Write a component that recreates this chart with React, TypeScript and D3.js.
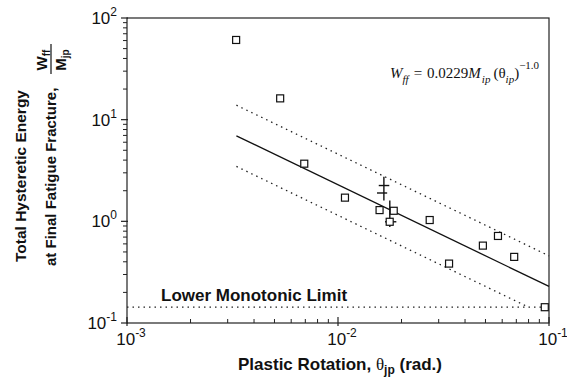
import React from "react";
import * as d3 from "d3";

// Test specimens: plastic rotation (rad) vs. normalized hysteretic energy W_ff / M_jp
const rotation = [0.00329, 0.00532, 0.00692, 0.01079, 0.01574, 0.01837, 0.01758, 0.0272, 0.0336, 0.0486, 0.0573, 0.0684, 0.0955];
const energy = [60.8, 16.2, 3.69, 1.71, 1.29, 1.27, 0.99, 1.03, 0.384, 0.577, 0.718, 0.447, 0.143];

// Specimens reported with scatter bands (centre, x range, y range)
const crossX = [0.0165, 0.0162, 0.0176, 0.0177];
const crossY = [2.25, 1.9, 1.25, 0.99];
const crossXLo = [0.0156, 0.0153, 0.0176, 0.0167];
const crossXHi = [0.0175, 0.0171, 0.0176, 0.0189];
const crossYLo = [1.6, 1.9, 0.88, 0.99];
const crossYHi = [2.75, 1.9, 1.6, 0.99];

// Fit: W_ff = 0.0229 M_jp θ^-1.0, with bands at 2x and 0.5x
const fitCoef = 0.0229;
const fitExp = -1.0;
const bandFactors = [2, 0.5];
const fitRange = [0.0033, 0.1];
const monotonicLimit = 0.143;

const xTickExp = [-3, -2, -1];
const yTickExp = [-1, 0, 1, 2];

const W = 567;
const H = 379;
const m = { left: 127, right: 549, top: 18, bottom: 323 };

export default function App() {
  const x = d3.scaleLog().domain([1e-3, 1e-1]).range([m.left, m.right]);
  const y = d3.scaleLog().domain([1e-1, 1e2]).range([m.bottom, m.top]);

  const fit = (t: number, k = 1) => k * fitCoef * Math.pow(t, fitExp);

  const fitPath = d3
    .line<[number, number]>()
    .x((d) => x(d[0]))
    .y((d) => y(d[1]));

  const upper: [number, number][] = [
    [fitRange[0], fit(fitRange[0], bandFactors[0])],
    [fitRange[1], fit(fitRange[1], bandFactors[0])],
  ];
  // lower band runs until it meets the monotonic limit
  const tMeet = Math.pow(monotonicLimit / (fitCoef * bandFactors[1]), 1 / fitExp);
  const lower: [number, number][] = [
    [fitRange[0], fit(fitRange[0], bandFactors[1])],
    [tMeet, monotonicLimit],
  ];
  const mid: [number, number][] = [
    [fitRange[0], fit(fitRange[0])],
    [fitRange[1], fit(fitRange[1])],
  ];

  const xMinor: number[] = [];
  for (let e = -3; e < -1; e++) for (let k = 2; k <= 9; k++) xMinor.push(k * Math.pow(10, e));
  const yMinor: number[] = [];
  for (let e = -1; e < 2; e++) for (let k = 2; k <= 9; k++) yMinor.push(k * Math.pow(10, e));

  const sans = "Arial, 'Liberation Sans', Helvetica, sans-serif";
  const serif = "'Times New Roman', 'Liberation Serif', serif";
  const sq = 7;

  return (
    <svg width={W} height={H} style={{ display: "block", position: "absolute", left: 0, top: 0, background: "#fff" }}>
      {/* frame */}
      <rect x={m.left} y={m.top} width={m.right - m.left} height={m.bottom - m.top} fill="none" stroke="#222" strokeWidth={1.2} />

      {/* y ticks */}
      {yTickExp.map((e) => (
        <g key={"y" + e}>
          <line x1={m.left - 6} x2={m.left + 1} y1={y(Math.pow(10, e))} y2={y(Math.pow(10, e))} stroke="#222" strokeWidth={1.2} />
          <text x={m.left - 10} y={y(Math.pow(10, e)) + 6} textAnchor="end" fontFamily={sans} fontSize={17} fill="#111">
            10<tspan dy={-8} fontSize={12}>{e}</tspan>
          </text>
        </g>
      ))}
      {yMinor.map((v) => (
        <line key={"ym" + v} x1={m.left - 4} x2={m.left} y1={y(v)} y2={y(v)} stroke="#222" strokeWidth={1} />
      ))}

      {/* x ticks */}
      {xTickExp.map((e) => (
        <g key={"x" + e}>
          <line x1={x(Math.pow(10, e))} x2={x(Math.pow(10, e))} y1={m.bottom + 3} y2={m.bottom - 6} stroke="#222" strokeWidth={1.2} />
          <text x={x(Math.pow(10, e)) + 4} y={m.bottom + 22} textAnchor="middle" fontFamily={sans} fontSize={17} fill="#111">
            10<tspan dy={-8} fontSize={12}>{e}</tspan>
          </text>
        </g>
      ))}
      {xMinor.map((v) => (
        <line key={"xm" + v} x1={x(v)} x2={x(v)} y1={m.bottom} y2={m.bottom - 4} stroke="#222" strokeWidth={1} />
      ))}

      {/* fit and bands */}
      <path d={fitPath(mid) ?? ""} fill="none" stroke="#111" strokeWidth={1.3} />
      <path d={fitPath(upper) ?? ""} fill="none" stroke="#222" strokeWidth={1.3} strokeDasharray="1.5 4" />
      <path d={fitPath(lower) ?? ""} fill="none" stroke="#222" strokeWidth={1.3} strokeDasharray="1.5 4" />
      <line x1={m.left} x2={m.right} y1={y(monotonicLimit)} y2={y(monotonicLimit)} stroke="#222" strokeWidth={1.3} strokeDasharray="1.5 4" />

      {/* scatter bands */}
      {crossX.map((cx, i) => (
        <g key={"c" + i} stroke="#111" strokeWidth={1.4}>
          {crossYLo[i] !== crossYHi[i] && <line x1={x(cx)} x2={x(cx)} y1={y(crossYLo[i])} y2={y(crossYHi[i])} />}
          {crossXLo[i] !== crossXHi[i] && <line x1={x(crossXLo[i])} x2={x(crossXHi[i])} y1={y(crossY[i])} y2={y(crossY[i])} />}
        </g>
      ))}

      {/* data points */}
      {rotation.map((t, i) => (
        <rect key={"p" + i} x={x(t) - sq / 2} y={y(energy[i]) - sq / 2} width={sq} height={sq} fill="#fff" stroke="#111" strokeWidth={1.2} />
      ))}

      {/* annotations */}
      <text x={161} y={301} fontFamily={sans} fontWeight="bold" fontSize={17} fill="#111">
        Lower Monotonic Limit
      </text>
      <text x={390} y={78} fontFamily={serif} fontSize={15} fill="#111">
        <tspan fontStyle="italic">W</tspan>
        <tspan fontStyle="italic" fontSize={11} dy={5}>ff</tspan>
        <tspan dy={-5} dx={5}>=</tspan>
        <tspan dx={5}>0.0229</tspan>
        <tspan fontStyle="italic">M</tspan>
        <tspan fontStyle="italic" fontSize={11} dy={5} dx={1}>ip</tspan>
        <tspan dy={-5} dx={3}>(θ</tspan>
        <tspan fontStyle="italic" fontSize={11} dy={5}>ip</tspan>
        <tspan dy={-5}>)</tspan>
        <tspan fontSize={11} dy={-9}>−1.0</tspan>
      </text>

      {/* axis titles */}
      <text x={340} y={370} textAnchor="middle" fontFamily={sans} fontWeight="bold" fontSize={17} fill="#111">
        Plastic Rotation, <tspan fontFamily={serif} fontWeight="normal">θ</tspan>
        <tspan fontSize={12} dy={4}>jp</tspan>
        <tspan dy={-4}> (rad.)</tspan>
      </text>
      <g transform="translate(26,262) rotate(-90)">
        <text x={0} y={0} fontFamily={sans} fontWeight="bold" fontSize={15.5} fill="#111">
          Total Hysteretic Energy
        </text>
      </g>
      <g transform="translate(56,266) rotate(-90)">
        <text x={0} y={0} fontFamily={sans} fontWeight="bold" fontSize={15} fill="#111">
          at Final Fatigue Fracture,
        </text>
        <text x={206} y={-9} textAnchor="middle" fontFamily={sans} fontWeight="bold" fontSize={15} fill="#111">
          W<tspan fontSize={10} dy={3}>ff</tspan>
        </text>
        <line x1={192} x2={222} y1={-5} y2={-5} stroke="#111" strokeWidth={1.2} />
        <text x={206} y={10} textAnchor="middle" fontFamily={sans} fontWeight="bold" fontSize={15} fill="#111">
          M<tspan fontSize={10} dy={3}>jp</tspan>
        </text>
      </g>
    </svg>
  );
}
